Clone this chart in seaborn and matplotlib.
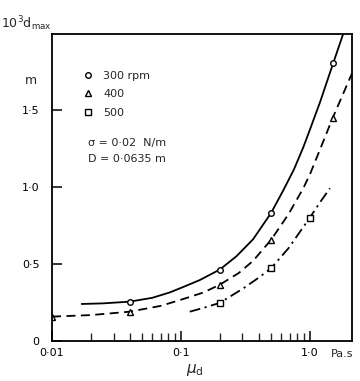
import numpy as np
import pandas as pd
import matplotlib
matplotlib.use("Agg")
import matplotlib.pyplot as plt
import seaborn as sns
from matplotlib.ticker import FixedLocator, NullFormatter

sns.set_style("ticks")
plt.rcParams['font.family'] = ['DejaVu Sans']

# measured points (viscosity mu_d in Pa.s, 10^3 d_max in m)
mu_300 = [0.04, 0.2, 0.5, 1.5]
d_300 = [0.255, 0.463, 0.83, 1.80]
mu_400 = [0.01, 0.04, 0.2, 0.5, 1.5]
d_400 = [0.158, 0.19, 0.365, 0.656, 1.445]
mu_500 = [0.2, 0.5, 1.0]
d_500 = [0.247, 0.472, 0.80]

# hand-drawn trend curves
curve_300_x = [0.017, 0.025, 0.04, 0.06, 0.082, 0.104, 0.14, 0.2, 0.27, 0.363,
               0.5, 0.62, 0.75, 0.888, 1.0, 1.2, 1.5, 1.81]
curve_300_y = [0.24, 0.244, 0.255, 0.28, 0.315, 0.35, 0.395, 0.463, 0.55, 0.66,
               0.83, 0.975, 1.11, 1.255, 1.37, 1.55, 1.79, 1.99]
curve_400_x = [0.01, 0.02, 0.04, 0.07, 0.104, 0.15, 0.2, 0.28, 0.363, 0.5,
               0.68, 0.888, 1.0, 1.196, 1.5, 2.12]
curve_400_y = [0.158, 0.168, 0.19, 0.228, 0.272, 0.315, 0.365, 0.44, 0.52, 0.656,
               0.82, 0.99, 1.08, 1.24, 1.445, 1.735]
curve_500_x = [0.117, 0.15, 0.2, 0.303, 0.4, 0.5, 0.68, 1.0, 1.2, 1.43]
curve_500_y = [0.19, 0.215, 0.247, 0.34, 0.41, 0.472, 0.60, 0.80, 0.90, 0.99]

minor_x = [k * d for d in (0.01, 0.1) for k in range(2, 10)]

fig = plt.figure(figsize=(3.6, 3.81), dpi=100)
ax = fig.add_axes([52/360, 1-341/381, 300/360, 307/381])

lw = 1.3
sns.lineplot(x=curve_300_x, y=curve_300_y, ax=ax, color='black', lw=lw, sort=False)
sns.lineplot(x=curve_400_x, y=curve_400_y, ax=ax, color='black', lw=lw, sort=False,
             linestyle=(0, (5, 3)))
sns.lineplot(x=curve_500_x, y=curve_500_y, ax=ax, color='black', lw=lw, sort=False,
             linestyle=(0, (6, 2.5, 1.2, 2.5)))

mk = dict(mfc='white', mec='black', mew=1.0, linestyle='none')
ax.plot(mu_300, d_300, marker='o', ms=4, label='300 rpm', **mk)
ax.plot(mu_400, d_400, marker='^', ms=4.5, label='400', **mk)
ax.plot(mu_500, d_500, marker='s', ms=3.8, label='500', **mk)

ax.set_xscale('log')
ax.set_xlim(0.01, 2.12)
ax.set_ylim(0, 1.99)

ax.xaxis.set_major_locator(FixedLocator([0.01, 0.1, 1.0]))
ax.set_xticklabels(['0·01', '0·1', '1·0'])
ax.xaxis.set_minor_locator(FixedLocator(minor_x))
ax.xaxis.set_minor_formatter(NullFormatter())
ax.yaxis.set_major_locator(FixedLocator([0, 0.5, 1.0, 1.5]))
ax.set_yticklabels(['0', '0·5', '1·0', '1·5'])

ax.tick_params(axis='both', which='major', direction='in', length=7, width=1.1,
               labelsize=8, colors='black', pad=5)
ax.tick_params(axis='x', which='minor', direction='in', length=6, width=1.0)
ax.tick_params(axis='y', which='major', pad=9)
for s in ax.spines.values():
    s.set_linewidth(1.3)
    s.set_color('black')

ax.set_xlabel('')
ax.set_ylabel('')

leg = ax.legend(loc='upper left', bbox_to_anchor=(0.10, 0.88), frameon=False,
                fontsize=8, handlelength=1.0, handletextpad=0.9, labelspacing=0.75,
                borderpad=0, borderaxespad=0)
ax.text(88/360, 1-143/381, 'σ = 0·02  N/m', transform=fig.transFigure, fontsize=8,
        va='center', ha='left')
ax.text(88/360, 1-159/381, 'D = 0·0635 m', transform=fig.transFigure, fontsize=8,
        va='center', ha='left')

fig.text(1/360, 1-24/381, r'10$^3$d$_{\rm max}$', ha='left', va='center', fontsize=9)
fig.text(31/360, 1-81/381, 'm', ha='center', va='center', fontsize=9)
fig.text(342/360, 1-354/381, 'Pa.s', ha='center', va='center', fontsize=8)
fig.text(195/360, 1-370/381, r'$\mu_{\rm d}$', ha='center', va='center', fontsize=11)

fig.savefig('out.png', dpi=100)
